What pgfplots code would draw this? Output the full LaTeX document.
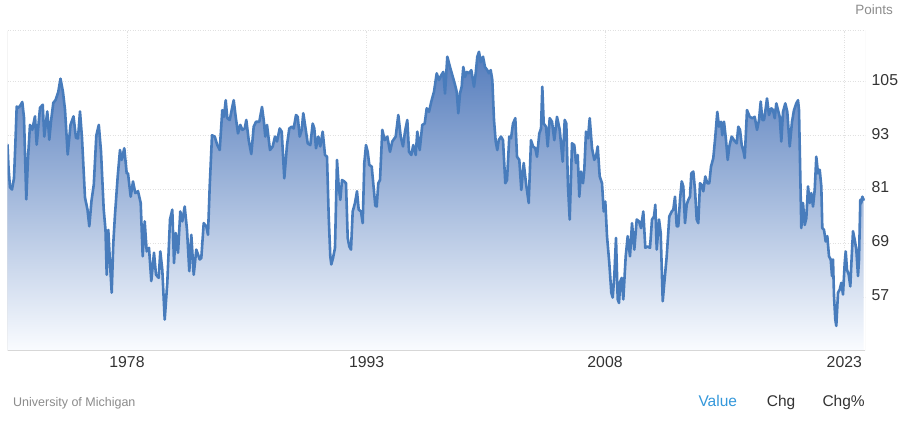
\documentclass[border=0pt]{standalone}
\usepackage{fontspec}
\setmainfont{Liberation Sans}
\usepackage{pgfplots}
\pgfplotsset{compat=1.18}
\usepackage{pgfplotstable}
\definecolor{linec}{RGB}{72,124,188}
\definecolor{ftop}{RGB}{84,124,188}
\definecolor{fbot}{RGB}{250,252,255}
\definecolor{txt}{RGB}{51,51,51}
\definecolor{lgray}{RGB}{140,140,140}
\definecolor{valblue}{RGB}{52,152,219}
\definecolor{gridc}{RGB}{225,225,225}
\definecolor{axc}{RGB}{215,215,215}
\pgfplotstableread{
x y
7.5 91
8.5 86
10 81.5
12 81
14 83.5
15.5 92
16.7 99.5
18 99.2
20 99.6
22.3 100.5
24 97
26.3 78.8
28 88
30 95.4
32.3 94.3
35 97.3
36.7 91
40 99.2
42.7 99.9
44.3 92.8
47.3 98.4
49.3 92.1
51 96.2
53.3 100.3
55.7 101
58.3 102.8
60.5 105.7
63 102.7
65 98.8
67.7 88.8
70.5 95.4
73.5 97.3
76 92.5
78 92.4
80 98.4
82 92.5
85 79.2
87.5 76.5
89.3 72.8
91.5 78.5
93.8 82.1
96.3 93
98.8 95.4
101 89.5
103.7 76.6
105.5 72
106.7 62
108.3 72
110 64.6
111.7 58
113.3 69
115 75.4
117.7 83.9
120 89.8
121.7 87.6
124.3 90.2
126.7 84.6
128 84.6
130.7 79.4
133 82.8
135.3 80.2
138 80.6
140.7 78
142.7 66.1
144.7 73.9
146.7 67.2
149 68
151.3 60.6
154 66.9
156 62
158.7 61.3
160.3 67.2
162.3 63.1
164.7 52
167.3 60.2
170 74.3
172.3 76.5
174 64.6
175.7 71.3
178 66.9
180.3 76.1
182.3 73.9
184.7 77.2
187 72
189.3 62.8
191.3 70.9
193.7 62
196.3 67.6
199.7 65.4
201.3 65.7
203.7 73.5
206.3 72.8
208 70.9
209.7 81.7
212 93.1
214.7 92.8
217.3 90.9
219.7 89.8
222.3 98.7
224 97.2
225.7 100.9
227.3 96.9
229.7 96.5
231.3 98.3
233.7 100.9
235.7 97.2
238 93.5
240.3 95.4
242.3 94.3
244.7 94.6
246.3 96.5
248.7 92
251.3 88.9
253.7 95
256 96.1
259.3 96.1
262 99.4
263.7 96.5
265.3 92.8
267 95.4
270 89.8
272.7 90.6
275 92.8
277 91.7
279.7 94.6
281.7 93.9
284.3 83.5
287 90.9
289.3 94.6
291.7 95
293.7 94.6
296 97.6
297.7 97.2
299.7 92.8
301.7 94.3
303.3 98
305.3 95
307.7 91.3
310.3 90.9
312.7 95.7
314.3 94.6
316 90.2
318.3 92.8
320.3 90.6
322.7 93.9
325 88.7
327 88.3
328.7 75
330.3 66.1
331.3 64.3
333 65.7
335 68
337 87.6
338.7 81.7
340.3 78.7
342 83.1
344.3 82.8
346 82.4
347.7 70.2
349.3 68.3
351 67.6
352.7 76.1
355 78
357 80.6
358.7 76.5
361 76.1
362.7 73.5
364.3 86.9
366 90.9
367.7 89.4
369.3 86.5
371.7 86.1
373.7 81.3
375.3 77.4
376.7 77.2
378.3 82.4
380 83.1
382.3 94.3
384.7 92
387.3 92.8
390 89.4
392.3 91.7
395.7 92.8
398.3 97.6
400.7 92.8
403 90.6
405 93.9
407.3 96.5
409 89.4
411.3 88.7
413.3 90.9
415.7 88.7
417.3 93.9
419.7 89.8
422.3 95.4
424.7 95.7
426.7 99.1
429 98.3
431.3 100.6
434 102.8
436.7 106.9
439 105.4
441.3 106.5
443.3 107.2
445 102.4
447.3 110.6
450 108.3
452.3 106.5
454.7 104.6
456.7 102.8
458.3 98
460 102.4
461.7 103.9
463.3 108.3
465 106.1
466.7 107.2
469 106.9
471.3 107.6
474 103.9
475.7 106.9
477.3 110.6
479 111.7
480.7 109.4
483 110.6
485 108.3
487.3 107.6
489 106.9
490.7 107.6
492.3 105.4
494 96.5
495.7 91.7
497.3 89.8
498.7 92
501 92.8
503 92
505.3 82.4
507 83.1
509.3 92.8
511 92.4
513 95.7
515.3 96.9
517 88.3
519.3 87.6
521.3 80.9
523.7 86.9
526 82.4
528.7 78
531 92
533 90.6
535.3 90.2
537 88.3
539.3 93.5
541 94.6
542.3 103.9
543.7 95.7
546 95
547.7 90.6
549.7 96.9
552 96.1
554.3 92
557 97.2
559.7 94.3
562.7 87.2
564.7 96.5
566.3 95.7
568 81.7
569.7 74.3
572 91.3
574.3 90.9
576 86.9
577.7 88.7
579.3 79.4
581 85
583 82.4
584.3 85.4
586 93.9
588 92.4
589.7 96.9
592 90.2
594.3 87.6
596 88.3
597.7 90.6
599.7 83.9
602 82.4
603.7 76.1
605.3 78.3
607 70.6
609.3 64.6
611.3 58
612.7 56.9
614.3 61.7
616 70.2
617.7 56.5
619 55.7
620.3 60.5
621.7 61.3
623.3 56.5
625.7 66.1
627.7 70.6
630 66.1
632 73.5
634.3 67.6
636.7 74.3
639 73.9
641 72.4
643.3 76.1
645.3 68
647.3 68.3
650 68
652 74.3
654 75
655.3 77.6
656.7 67.6
659 74.3
660.7 71.3
662.7 56.1
664.3 60.2
666.7 66.1
669.3 75
671.7 76.1
673.3 76.5
675 79.4
676.7 72.8
678.3 72.8
680 78.7
681.7 82.8
683.3 81.7
685 73.5
686.7 77.6
688.3 78.7
690 79.4
691.3 84.6
693.3 85
695 80.9
696.7 74.3
698.3 73.5
700 82.4
701.7 82
703.3 80.6
705.3 83.9
707.3 82.4
709.3 82.4
711 86.1
713.3 88
715.3 92.8
717.3 98.3
719 95
721 96.1
722.3 93.1
724 96.1
726 92
727.7 87.6
729.3 90.6
731.7 92.8
734 92
736.7 91.3
738.3 95
740 94.3
741.7 90.9
743.5 89.5
744.7 88
747 98.7
749.7 97.2
752.3 96.9
754.7 97.2
757 94.3
759 96.5
760.7 100.6
762.3 96.5
764 96.5
765.7 99.1
767 101.3
769 97.6
771.3 99.1
773 98.7
774.7 96.9
776.3 100.2
778 98.7
779.7 97.2
781.3 91.7
783 98.3
785.3 100.2
787.3 98.3
789.7 90.6
792 96.1
794 98.7
796.3 100.2
798 100.9
799 98.7
800.3 83.9
801.3 72.4
803 78
804.7 73.1
806.3 74.6
808 81.7
809.7 78
811.3 80.2
813 77.2
814.7 80.9
816.3 88.3
818 84.6
819.7 85.4
821.3 81.7
822.3 72.4
824 72
825.7 69.4
827.3 70.6
829 66.1
830.7 65.4
832 61.7
833 65.4
834 57.2
835.3 52
836.3 50.6
838 58
839.7 58.7
841.3 60.2
843 57.6
844.7 64.6
845.7 67.2
847 63.1
848.7 62
850.3 59.4
851.7 66.1
853 71.7
854.7 69.8
856.3 67.6
858 61.7
859 65.4
860.3 78.7
861.3 78
862.3 79.4
863.7 78.7
}\data
\begin{document}
\begin{tikzpicture}
\fill[white] (0,0) rectangle (900bp,423bp);
\begin{axis}[
  at={(7.5bp,72bp)}, anchor=south west,
  scale only axis, width=857.5bp, height=320.3bp,
  xmin=7.5, xmax=865, ymin=45, ymax=116.4,
  xtick={127,366.7,605,844.3}, xticklabels={1978,1993,2008,2023},
  ytick={57,69,81,93,105}, yticklabels={57,69,81,93,105},
  yticklabel pos=right,
  major tick length=0pt,
  axis line style={draw=none},
  grid=major,
  major grid style={gridc, dash pattern=on 1bp off 1.5bp, line width=0.7bp},
  tick label style={font=\fontsize{15.8bp}{18bp}\selectfont, text=txt, inner sep=0pt},
  xticklabel style={anchor=north, yshift=-5bp},
  yticklabel style={anchor=west, xshift=6.5bp, yshift=2bp},
  /pgf/number format/assume math mode=true,
]
\addplot[draw=none, top color=ftop, bottom color=fbot, forget plot] table {\data} -- (axis cs:863.7,45) -- (axis cs:7.5,45) -- cycle;
\addplot[linec, line width=2.6bp, line join=round, line cap=round, mark=none] table {\data};
\draw[axc, line width=1.6bp] (rel axis cs:0,0) -- (rel axis cs:1,0);
\draw[gridc, line width=0.8bp] (rel axis cs:0,0) -- (rel axis cs:0,1);
\draw[gridc, line width=0.8bp] (rel axis cs:1,0) -- (rel axis cs:1,1);
\draw[gridc, dash pattern=on 1bp off 1.5bp, line width=0.7bp] (rel axis cs:0,1) -- (rel axis cs:1,1);
\end{axis}
\node[anchor=base east, inner sep=0pt, font=\fontsize{13.5bp}{16bp}\selectfont, text=lgray] at (893bp,408bp) {Points};
\node[anchor=base west, inner sep=0pt, font=\fontsize{12.5bp}{15bp}\selectfont, text=lgray] at (13bp,17bp) {University of Michigan};
\node[anchor=base west, inner sep=0pt, font=\fontsize{15.5bp}{18bp}\selectfont, text=valblue] at (698.3bp,17bp) {Value};
\node[anchor=base west, inner sep=0pt, font=\fontsize{15.5bp}{18bp}\selectfont, text=txt] at (766.7bp,17bp) {Chg};
\node[anchor=base west, inner sep=0pt, font=\fontsize{15.5bp}{18bp}\selectfont, text=txt] at (822.3bp,17bp) {Chg\%};
\end{tikzpicture}
\end{document}
